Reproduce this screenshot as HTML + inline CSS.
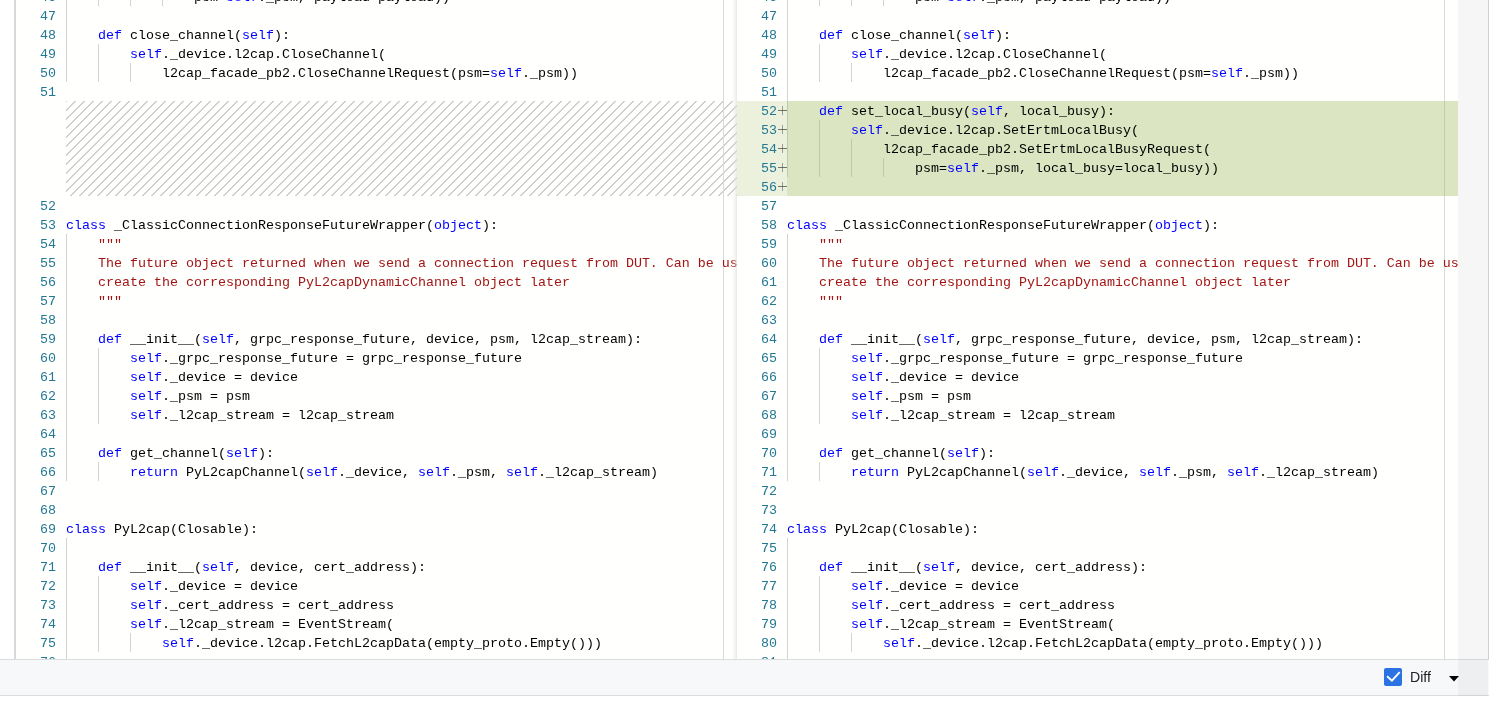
<!DOCTYPE html>
<html><head><meta charset="utf-8"><style>
*{margin:0;padding:0;box-sizing:border-box}
html,body{width:1489px;height:703px;overflow:hidden;background:#fff}
body{position:relative;-webkit-font-smoothing:antialiased;font-family:"Liberation Mono",monospace;font-size:13.333px;}
.pane{position:absolute;will-change:transform;top:0;height:659px;width:721px;overflow:hidden;background:#fffffe}
.ln{position:absolute;left:0;width:40px;text-align:right;color:#237893;height:19px;line-height:19px;white-space:pre;padding-top:1px}
.cd{position:absolute;left:50px;height:19px;line-height:19px;white-space:pre;color:#000;padding-top:1px}
.k{color:#0000ff}
.s{color:#a31515}
.gd{position:absolute;width:1px;height:19px;background:#d3d3d3}
.hatch{position:absolute;left:50px;right:0;height:19px}
.hatchblk{position:absolute;left:50px;width:671px;top:101px;height:95px;
 background-image:linear-gradient(-45deg,rgba(34,34,34,.22) 12%,transparent 12%,transparent 50%,rgba(34,34,34,.22) 50%,rgba(34,34,34,.22) 62%,transparent 62%,transparent 100%);
 background-size:9px 9px;background-position:2px 0;}
.insg{position:absolute;left:0;width:721px;height:19px;background:rgba(155,185,85,.2)}
.insc{position:absolute;left:50px;right:0;height:19px;background:rgba(155,185,85,.2)}
.plh{position:absolute;left:41px;width:9px;height:1px;background:rgba(50,50,50,.65)}
.plv{position:absolute;left:45px;width:1px;height:9px;background:rgba(50,50,50,.45)}
.ruler{position:absolute;top:0;width:1px;height:659px;background:#dadada}
</style></head><body><div style="position:absolute;left:0;top:0;width:1489px;height:703px;will-change:transform;background:#fff">
<div style="position:absolute;left:14px;top:0;width:2px;height:659px;background:#d9d9d9"></div>
<div class="pane" style="left:16px">
<div class="hatchblk"></div>
<div class="ruler" style="left:707px"></div>
<div class="gd" style="top:-13px;left:50px"></div>
<div class="gd" style="top:-13px;left:82px"></div>
<div class="gd" style="top:-13px;left:114px"></div>
<div class="gd" style="top:-13px;left:146px"></div>
<div class="ln" style="top:-13px">46</div>
<div class="cd" style="top:-13px">                psm=<span class="k">self</span>._psm, payload=payload))</div>
<div class="gd" style="top:6px;left:50px"></div>
<div class="ln" style="top:6px">47</div>
<div class="gd" style="top:25px;left:50px"></div>
<div class="ln" style="top:25px">48</div>
<div class="cd" style="top:25px">    <span class="k">def</span> close_channel(<span class="k">self</span>):</div>
<div class="gd" style="top:44px;left:50px"></div>
<div class="gd" style="top:44px;left:82px"></div>
<div class="ln" style="top:44px">49</div>
<div class="cd" style="top:44px">        <span class="k">self</span>._device.l2cap.CloseChannel(</div>
<div class="gd" style="top:63px;left:50px"></div>
<div class="gd" style="top:63px;left:82px"></div>
<div class="gd" style="top:63px;left:114px"></div>
<div class="ln" style="top:63px">50</div>
<div class="cd" style="top:63px">            l2cap_facade_pb2.CloseChannelRequest(psm=<span class="k">self</span>._psm))</div>
<div class="ln" style="top:82px">51</div>
<div class="ln" style="top:196px">52</div>
<div class="ln" style="top:215px">53</div>
<div class="cd" style="top:215px"><span class="k">class</span> _ClassicConnectionResponseFutureWrapper(<span class="k">object</span>):</div>
<div class="gd" style="top:234px;left:50px"></div>
<div class="ln" style="top:234px">54</div>
<div class="cd" style="top:234px">    <span class="s">&quot;&quot;&quot;</span></div>
<div class="gd" style="top:253px;left:50px"></div>
<div class="ln" style="top:253px">55</div>
<div class="cd" style="top:253px">    <span class="s">The future object returned when we send a connection request from DUT. Can be used to get</span></div>
<div class="gd" style="top:272px;left:50px"></div>
<div class="ln" style="top:272px">56</div>
<div class="cd" style="top:272px">    <span class="s">create the corresponding PyL2capDynamicChannel object later</span></div>
<div class="gd" style="top:291px;left:50px"></div>
<div class="ln" style="top:291px">57</div>
<div class="cd" style="top:291px">    <span class="s">&quot;&quot;&quot;</span></div>
<div class="gd" style="top:310px;left:50px"></div>
<div class="ln" style="top:310px">58</div>
<div class="gd" style="top:329px;left:50px"></div>
<div class="ln" style="top:329px">59</div>
<div class="cd" style="top:329px">    <span class="k">def</span> __init__(<span class="k">self</span>, grpc_response_future, device, psm, l2cap_stream):</div>
<div class="gd" style="top:348px;left:50px"></div>
<div class="gd" style="top:348px;left:82px"></div>
<div class="ln" style="top:348px">60</div>
<div class="cd" style="top:348px">        <span class="k">self</span>._grpc_response_future = grpc_response_future</div>
<div class="gd" style="top:367px;left:50px"></div>
<div class="gd" style="top:367px;left:82px"></div>
<div class="ln" style="top:367px">61</div>
<div class="cd" style="top:367px">        <span class="k">self</span>._device = device</div>
<div class="gd" style="top:386px;left:50px"></div>
<div class="gd" style="top:386px;left:82px"></div>
<div class="ln" style="top:386px">62</div>
<div class="cd" style="top:386px">        <span class="k">self</span>._psm = psm</div>
<div class="gd" style="top:405px;left:50px"></div>
<div class="gd" style="top:405px;left:82px"></div>
<div class="ln" style="top:405px">63</div>
<div class="cd" style="top:405px">        <span class="k">self</span>._l2cap_stream = l2cap_stream</div>
<div class="gd" style="top:424px;left:50px"></div>
<div class="ln" style="top:424px">64</div>
<div class="gd" style="top:443px;left:50px"></div>
<div class="ln" style="top:443px">65</div>
<div class="cd" style="top:443px">    <span class="k">def</span> get_channel(<span class="k">self</span>):</div>
<div class="gd" style="top:462px;left:50px"></div>
<div class="gd" style="top:462px;left:82px"></div>
<div class="ln" style="top:462px">66</div>
<div class="cd" style="top:462px">        <span class="k">return</span> PyL2capChannel(<span class="k">self</span>._device, <span class="k">self</span>._psm, <span class="k">self</span>._l2cap_stream)</div>
<div class="ln" style="top:481px">67</div>
<div class="ln" style="top:500px">68</div>
<div class="ln" style="top:519px">69</div>
<div class="cd" style="top:519px"><span class="k">class</span> PyL2cap(Closable):</div>
<div class="gd" style="top:538px;left:50px"></div>
<div class="ln" style="top:538px">70</div>
<div class="gd" style="top:557px;left:50px"></div>
<div class="ln" style="top:557px">71</div>
<div class="cd" style="top:557px">    <span class="k">def</span> __init__(<span class="k">self</span>, device, cert_address):</div>
<div class="gd" style="top:576px;left:50px"></div>
<div class="gd" style="top:576px;left:82px"></div>
<div class="ln" style="top:576px">72</div>
<div class="cd" style="top:576px">        <span class="k">self</span>._device = device</div>
<div class="gd" style="top:595px;left:50px"></div>
<div class="gd" style="top:595px;left:82px"></div>
<div class="ln" style="top:595px">73</div>
<div class="cd" style="top:595px">        <span class="k">self</span>._cert_address = cert_address</div>
<div class="gd" style="top:614px;left:50px"></div>
<div class="gd" style="top:614px;left:82px"></div>
<div class="ln" style="top:614px">74</div>
<div class="cd" style="top:614px">        <span class="k">self</span>._l2cap_stream = EventStream(</div>
<div class="gd" style="top:633px;left:50px"></div>
<div class="gd" style="top:633px;left:82px"></div>
<div class="gd" style="top:633px;left:114px"></div>
<div class="ln" style="top:633px">75</div>
<div class="cd" style="top:633px">            <span class="k">self</span>._device.l2cap.FetchL2capData(empty_proto.Empty()))</div>
<div class="gd" style="top:652px;left:50px"></div>
<div class="ln" style="top:652px">76</div>
</div>
<div style="position:absolute;left:737px;top:-20px;width:20px;height:700px;box-shadow:-6px 0 5px -5px #ddd"></div>
<div class="pane" style="left:737px;overflow:visible">
<div style="position:absolute;left:0;top:0;width:721px;height:659px;overflow:hidden">
<div class="ruler" style="left:707px"></div>
<div class="gd" style="top:-13px;left:50px"></div>
<div class="gd" style="top:-13px;left:82px"></div>
<div class="gd" style="top:-13px;left:114px"></div>
<div class="gd" style="top:-13px;left:146px"></div>
<div class="ln" style="top:-13px">46</div>
<div class="cd" style="top:-13px">                psm=<span class="k">self</span>._psm, payload=payload))</div>
<div class="gd" style="top:6px;left:50px"></div>
<div class="ln" style="top:6px">47</div>
<div class="gd" style="top:25px;left:50px"></div>
<div class="ln" style="top:25px">48</div>
<div class="cd" style="top:25px">    <span class="k">def</span> close_channel(<span class="k">self</span>):</div>
<div class="gd" style="top:44px;left:50px"></div>
<div class="gd" style="top:44px;left:82px"></div>
<div class="ln" style="top:44px">49</div>
<div class="cd" style="top:44px">        <span class="k">self</span>._device.l2cap.CloseChannel(</div>
<div class="gd" style="top:63px;left:50px"></div>
<div class="gd" style="top:63px;left:82px"></div>
<div class="gd" style="top:63px;left:114px"></div>
<div class="ln" style="top:63px">50</div>
<div class="cd" style="top:63px">            l2cap_facade_pb2.CloseChannelRequest(psm=<span class="k">self</span>._psm))</div>
<div class="gd" style="top:82px;left:50px"></div>
<div class="ln" style="top:82px">51</div>
<div class="gd" style="top:101px;left:50px"></div>
<div class="insg" style="top:101px"></div>
<div class="insc" style="top:101px"></div>
<div class="ln" style="top:101px">52</div>
<div class="plh" style="top:110px"></div><div class="plv" style="top:106px"></div>
<div class="cd" style="top:101px">    <span class="k">def</span> set_local_busy(<span class="k">self</span>, local_busy):</div>
<div class="gd" style="top:120px;left:50px"></div>
<div class="gd" style="top:120px;left:82px"></div>
<div class="insg" style="top:120px"></div>
<div class="insc" style="top:120px"></div>
<div class="ln" style="top:120px">53</div>
<div class="plh" style="top:129px"></div><div class="plv" style="top:125px"></div>
<div class="cd" style="top:120px">        <span class="k">self</span>._device.l2cap.SetErtmLocalBusy(</div>
<div class="gd" style="top:139px;left:50px"></div>
<div class="gd" style="top:139px;left:82px"></div>
<div class="gd" style="top:139px;left:114px"></div>
<div class="insg" style="top:139px"></div>
<div class="insc" style="top:139px"></div>
<div class="ln" style="top:139px">54</div>
<div class="plh" style="top:148px"></div><div class="plv" style="top:144px"></div>
<div class="cd" style="top:139px">            l2cap_facade_pb2.SetErtmLocalBusyRequest(</div>
<div class="gd" style="top:158px;left:50px"></div>
<div class="gd" style="top:158px;left:82px"></div>
<div class="gd" style="top:158px;left:114px"></div>
<div class="gd" style="top:158px;left:146px"></div>
<div class="insg" style="top:158px"></div>
<div class="insc" style="top:158px"></div>
<div class="ln" style="top:158px">55</div>
<div class="plh" style="top:167px"></div><div class="plv" style="top:163px"></div>
<div class="cd" style="top:158px">                psm=<span class="k">self</span>._psm, local_busy=local_busy))</div>
<div class="insg" style="top:177px"></div>
<div class="insc" style="top:177px"></div>
<div class="ln" style="top:177px">56</div>
<div class="plh" style="top:186px"></div><div class="plv" style="top:182px"></div>
<div class="ln" style="top:196px">57</div>
<div class="ln" style="top:215px">58</div>
<div class="cd" style="top:215px"><span class="k">class</span> _ClassicConnectionResponseFutureWrapper(<span class="k">object</span>):</div>
<div class="gd" style="top:234px;left:50px"></div>
<div class="ln" style="top:234px">59</div>
<div class="cd" style="top:234px">    <span class="s">&quot;&quot;&quot;</span></div>
<div class="gd" style="top:253px;left:50px"></div>
<div class="ln" style="top:253px">60</div>
<div class="cd" style="top:253px">    <span class="s">The future object returned when we send a connection request from DUT. Can be used to get</span></div>
<div class="gd" style="top:272px;left:50px"></div>
<div class="ln" style="top:272px">61</div>
<div class="cd" style="top:272px">    <span class="s">create the corresponding PyL2capDynamicChannel object later</span></div>
<div class="gd" style="top:291px;left:50px"></div>
<div class="ln" style="top:291px">62</div>
<div class="cd" style="top:291px">    <span class="s">&quot;&quot;&quot;</span></div>
<div class="gd" style="top:310px;left:50px"></div>
<div class="ln" style="top:310px">63</div>
<div class="gd" style="top:329px;left:50px"></div>
<div class="ln" style="top:329px">64</div>
<div class="cd" style="top:329px">    <span class="k">def</span> __init__(<span class="k">self</span>, grpc_response_future, device, psm, l2cap_stream):</div>
<div class="gd" style="top:348px;left:50px"></div>
<div class="gd" style="top:348px;left:82px"></div>
<div class="ln" style="top:348px">65</div>
<div class="cd" style="top:348px">        <span class="k">self</span>._grpc_response_future = grpc_response_future</div>
<div class="gd" style="top:367px;left:50px"></div>
<div class="gd" style="top:367px;left:82px"></div>
<div class="ln" style="top:367px">66</div>
<div class="cd" style="top:367px">        <span class="k">self</span>._device = device</div>
<div class="gd" style="top:386px;left:50px"></div>
<div class="gd" style="top:386px;left:82px"></div>
<div class="ln" style="top:386px">67</div>
<div class="cd" style="top:386px">        <span class="k">self</span>._psm = psm</div>
<div class="gd" style="top:405px;left:50px"></div>
<div class="gd" style="top:405px;left:82px"></div>
<div class="ln" style="top:405px">68</div>
<div class="cd" style="top:405px">        <span class="k">self</span>._l2cap_stream = l2cap_stream</div>
<div class="gd" style="top:424px;left:50px"></div>
<div class="ln" style="top:424px">69</div>
<div class="gd" style="top:443px;left:50px"></div>
<div class="ln" style="top:443px">70</div>
<div class="cd" style="top:443px">    <span class="k">def</span> get_channel(<span class="k">self</span>):</div>
<div class="gd" style="top:462px;left:50px"></div>
<div class="gd" style="top:462px;left:82px"></div>
<div class="ln" style="top:462px">71</div>
<div class="cd" style="top:462px">        <span class="k">return</span> PyL2capChannel(<span class="k">self</span>._device, <span class="k">self</span>._psm, <span class="k">self</span>._l2cap_stream)</div>
<div class="ln" style="top:481px">72</div>
<div class="ln" style="top:500px">73</div>
<div class="ln" style="top:519px">74</div>
<div class="cd" style="top:519px"><span class="k">class</span> PyL2cap(Closable):</div>
<div class="gd" style="top:538px;left:50px"></div>
<div class="ln" style="top:538px">75</div>
<div class="gd" style="top:557px;left:50px"></div>
<div class="ln" style="top:557px">76</div>
<div class="cd" style="top:557px">    <span class="k">def</span> __init__(<span class="k">self</span>, device, cert_address):</div>
<div class="gd" style="top:576px;left:50px"></div>
<div class="gd" style="top:576px;left:82px"></div>
<div class="ln" style="top:576px">77</div>
<div class="cd" style="top:576px">        <span class="k">self</span>._device = device</div>
<div class="gd" style="top:595px;left:50px"></div>
<div class="gd" style="top:595px;left:82px"></div>
<div class="ln" style="top:595px">78</div>
<div class="cd" style="top:595px">        <span class="k">self</span>._cert_address = cert_address</div>
<div class="gd" style="top:614px;left:50px"></div>
<div class="gd" style="top:614px;left:82px"></div>
<div class="ln" style="top:614px">79</div>
<div class="cd" style="top:614px">        <span class="k">self</span>._l2cap_stream = EventStream(</div>
<div class="gd" style="top:633px;left:50px"></div>
<div class="gd" style="top:633px;left:82px"></div>
<div class="gd" style="top:633px;left:114px"></div>
<div class="ln" style="top:633px">80</div>
<div class="cd" style="top:633px">            <span class="k">self</span>._device.l2cap.FetchL2capData(empty_proto.Empty()))</div>
<div class="gd" style="top:652px;left:50px"></div>
<div class="ln" style="top:652px">81</div>
</div>
</div>

<div style="position:absolute;left:0;top:659px;width:1489px;height:37px;background:#f7f8fa;border-top:1px solid #dadce0;border-bottom:1px solid #dadce0"></div>
<div style="position:absolute;left:1384px;top:668px;width:18px;height:18px;background:#2b73e2;border-radius:2px"></div>
<svg style="position:absolute;left:1384px;top:668px" width="18" height="18" viewBox="0 0 18 18"><path d="M3.1 8.2 L7.9 12.6 L15.7 4.1" fill="none" stroke="#fff" stroke-width="1.9"/></svg>
<div style="position:absolute;left:1410px;top:668px;height:18px;line-height:18px;font-family:'Liberation Sans',sans-serif;font-size:15px;color:#202124;transform:scaleX(0.94);transform-origin:0 0">Diff</div>
<svg style="position:absolute;left:1449px;top:676px" width="10" height="6" viewBox="0 0 10 6"><path d="M0 0 L10 0 L5 5.5 Z" fill="#000"/></svg>
<div style="position:absolute;left:1458px;top:0;width:30px;height:696px;background:rgba(0,0,0,.035)"></div>
<div style="position:absolute;left:1488px;top:0;width:1px;height:659px;background:#d0d0d0"></div>

</div></body></html>
